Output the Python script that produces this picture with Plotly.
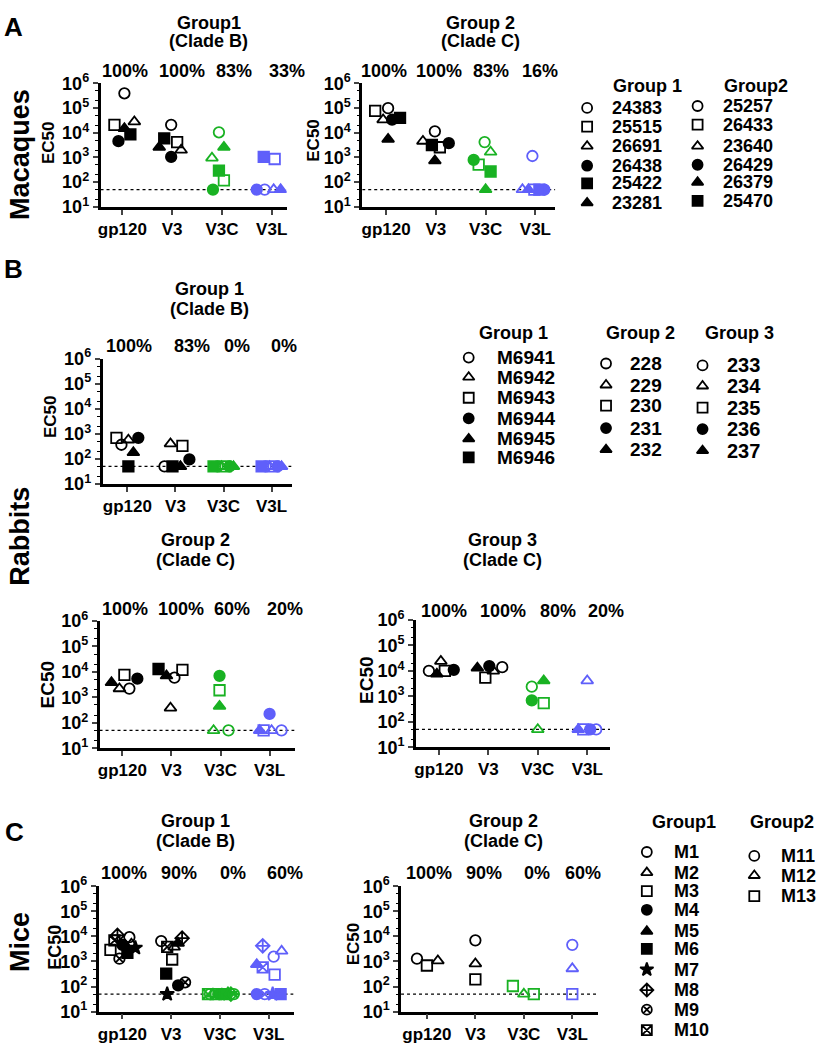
import plotly.graph_objects as go

W, H = 816, 1050
FONT = "Liberation Sans"
BLACK = "black"
GREEN = "rgb(25,178,35)"
BLUE = "rgb(95,95,250)"

categories = ["gp120", "V3", "V3C", "V3L"]
cat_colors = [BLACK, BLACK, GREEN, BLUE]

OC, OS, OT = "circle-open", "square-open", "triangle-up-open"
FC, FS, FT = "circle", "square", "triangle-up"

# ---------------- data (EC50 per animal: gp120, V3, V3C, V3L) ----------------
mac_g1_ids = ["24383", "25515", "26691", "26438", "25422", "23281"]
mac_g1_sym = [OC, OS, OT, FC, FS, FT]
mac_g1_ec50 = [[4.0e5, 2.1e4, 1.05e4, 50], [2.1e4, 4.2e3, 118, 870], [2.8e4, 2.0e3, 950, 50],
               [4.6e3, 1.05e3, 50, 50], [8.7e3, 6.0e3, 295, 1050], [1.5e4, 2.6e3, 2.6e3, 50]]
mac_g1_jit = [[2, -1, -3, -7], [-8, 5, 2, 3], [12, 9, -10, 2], [-4, -1, -9, -15], [8, -8, -3, -8], [2, -13, 2, 9]]
mac_g1_pct = ["100%", "100%", "83%", "33%"]

mac_g2_ids = ["25257", "26433", "23640", "26429", "26379", "25470"]
mac_g2_sym = [OC, OS, OT, FC, FT, FS]
mac_g2_ec50 = [[1.0e5, 1.15e4, 4.2e3, 1150], [7.8e4, 2.6e3, 510, 50], [3.4e4, 4.6e3, 1.66e3, 50],
               [3.4e4, 3.8e3, 800, 50], [5.5e3, 740, 50, 50], [4.0e4, 3.2e3, 270, 50]]
mac_g2_jit = [[2, -1, -1, -3], [-11, 4, -7, -1], [-3, -13, 5, -13], [6, 13, -12, 9], [2, -1, 0, -7], [14, -4, 5, 4]]
mac_g2_pct = ["100%", "100%", "83%", "16%"]

rab_g1_ids = ["M6941", "M6942", "M6943", "M6944", "M6945", "M6946"]
rab_g1_sym = [OC, OT, OS, FC, FT, FS]
rab_g1_ec50 = [[365, 50, 50, 50], [570, 400, 50, 50], [690, 330, 50, 50],
               [690, 95, 50, 50], [178, 50, 50, 50], [50, 50, 50, 50]]
rab_g1_jit = [[-6, -11, -6, -6], [1, -5, -2, -2], [-11, 7, 2, 2], [11, 14, 6, 6], [6, 5, 10, 10], [1, -3, -10, -10]]
rab_g1_pct = ["100%", "83%", "0%", "0%"]

rab_g2_ids = ["228", "229", "230", "231", "232"]
rab_g2_sym = [OC, OT, OS, FC, FT]
rab_g2_ec50 = [[2.2e3, 5.9e3, 50, 50], [2.2e3, 380, 50, 50], [7.6e3, 1.2e4, 1.9e3, 50],
               [5.4e3, 1.3e4, 7.0e3, 222], [3.8e3, 7.0e3, 450, 50]]
rab_g2_jit = [[7, 3, 8, 12], [-3, -1, -7, 2], [2, 11, -1, -6], [15, -13, -1, 0], [-11, -5, -1, -10]]
rab_g2_pct = ["100%", "100%", "60%", "20%"]
rab_g2_sym_override = {(3, 1): FS}

rab_g3_ids = ["233", "234", "235", "236", "237"]
rab_g3_sym = [OC, OT, OS, FC, FT]
rab_g3_ec50 = [[1.0e4, 1.4e4, 2.4e3, 50], [2.4e4, 1.0e4, 50, 4.1e3], [1.0e4, 5.4e3, 540, 50],
               [1.1e4, 1.55e4, 700, 50], [7.6e3, 1.3e4, 4.1e3, 50]]
rab_g3_jit = [[-10, 14, -6, 9], [2, 5, 0, 0], [6, -3, 6, -4], [15, 1, -6, 3], [-2, -11, 6, -9]]
rab_g3_pct = ["100%", "100%", "80%", "20%"]

M8, M9, M10 = "diamond-cross-open", "circle-x-open", "square-x-open"
mice_g1_ids = ["M1", "M2", "M3", "M4", "M5", "M6", "M7", "M8", "M9", "M10"]
mice_g1_sym = [OC, OT, OS, FC, FT, FS, "star", M8, M9, M10]
mice_g1_ec50 = [[9.3e3, 6.5e3, 50, 1.55e3], [5.0e3, 3.8e3, 50, 2.6e3], [2.9e3, 1.2e3, 50, 300],
                [4.6e3, 112, 50, 50], [4.5e3, 5.4e3, 50, 760], [2.2e3, 330, 50, 50],
                [3.5e3, 50, 50, 50], [1.1e4, 8.5e3, 50, 4.2e3], [1.3e3, 148, 50, 50],
                [7.0e3, 3.8e3, 50, 580]]
mice_g1_jit = [[7, -10, -10, 5], [9, 3, -7, 13], [-12, 1, -4, 6], [0, 7, -1, -12], [3, 7, 2, -12],
               [5, -5, 5, 12], [13, -4, 8, 4], [-5, 11, 11, -6], [-3, 14, 14, -4], [-8, -4, -12, -6]]
mice_g1_pct = ["100%", "90%", "0%", "60%"]

mice_g2_ids = ["M11", "M12", "M13"]
mice_g2_sym = [OC, OT, OS]
mice_g2_ec50 = [[1.3e3, 7.0e3, 50, 4.6e3], [1.07e3, 810, 50, 520], [690, 195, 105, 50]]
mice_g2_jit = [[-10, 0, 10, 0], [11, 0, 0, 0], [0, 0, -11, 0]]
mice_g2_pct = ["100%", "90%", "0%", "60%"]
mice_g2_sym_override = {(0, 2): OS}

cutoff = 50

# ---------------- layout geometry (pixels) ----------------
panels = [
    dict(ec50=mac_g1_ec50, jit=mac_g1_jit, sym=mac_g1_sym, pct=mac_g1_pct, ov={},
         geo=(98, 285, 120, 50, 73, 199), t1="Group1", t2="(Clade B)", tx=207, ty=(11, 30),
         pctx=[123, 180, 232, 285], pcty=60, ecx=45, ecy=133, ecs=17),
    dict(ec50=mac_g2_ec50, jit=mac_g2_jit, sym=mac_g2_sym, pct=mac_g2_pct, ov={},
         geo=(361, 555, 385, 50, 73, 199), t1="Group 2", t2="(Clade C)", tx=480, ty=(11, 30),
         pctx=[383, 438, 490, 540], pcty=60, ecx=312, ecy=131, ecs=17),
    dict(ec50=rab_g1_ec50, jit=rab_g1_jit, sym=rab_g1_sym, pct=rab_g1_pct, ov={},
         geo=(100, 290, 125, 48.3, 354, 482), t1="Group 1", t2="(Clade B)", tx=208, ty=(283, 303),
         pctx=[127, 190, 235, 282], pcty=341, ecx=48, ecy=413, ecs=17),
    dict(ec50=rab_g2_ec50, jit=rab_g2_jit, sym=rab_g2_sym, pct=rab_g2_pct, ov=rab_g2_sym_override,
         geo=(97, 293, 120, 49.3, 622, 752), t1="Group 2", t2="(Clade C)", tx=193, ty=(539, 560),
         pctx=[123, 179, 230, 283], pcty=610, ecx=45, ecy=687, ecs=19),
    dict(ec50=rab_g3_ec50, jit=rab_g3_jit, sym=rab_g3_sym, pct=rab_g3_pct, ov={},
         geo=(415, 610, 438, 49.7, 621, 751), t1="Group 3", t2="(Clade C)", tx=502, ty=(539, 560),
         pctx=[443, 502, 558, 606], pcty=612, ecx=365, ecy=682, ecs=19),
    dict(ec50=mice_g1_ec50, jit=mice_g1_jit, sym=mice_g1_sym, pct=mice_g1_pct, ov={},
         geo=(96, 292, 120, 49, 893, 1021), t1="Group 1", t2="(Clade B)", tx=193, ty=(826, 847),
         pctx=[122, 177, 231, 283], pcty=879, ecx=52, ecy=955, ecs=18),
    dict(ec50=mice_g2_ec50, jit=mice_g2_jit, sym=mice_g2_sym, pct=mice_g2_pct, ov=mice_g2_sym_override,
         geo=(400, 598, 426, 48.7, 893, 1021), t1="Group 2", t2="(Clade C)", tx=503, ty=(826, 847),
         pctx=[428, 483, 537, 583], pcty=879, ecx=352, ecy=952, ecs=17),
]

fig = go.Figure()
annotations = []


def ann(x, y, text, size, xanchor="center", angle=0):
    annotations.append(dict(x=x / W, y=1 - y / H, xref="paper", yref="paper", text="<b>%s</b>" % text,
                            showarrow=False, xanchor=xanchor, yanchor="middle", textangle=angle,
                            font=dict(family=FONT, size=size, color="black")))


layout_axes = {}
for k, p in enumerate(panels):
    n = k + 1
    sfx = str(n) if n > 1 else ""
    xa, ya = "x" + sfx, "y" + sfx
    left, right, c0, step, ytop, ybot = p["geo"]
    xr = [(left - c0) / step, (right - c0) / step]
    fig.add_trace(go.Scatter(x=xr, y=[cutoff, cutoff], mode="lines", xaxis=xa, yaxis=ya,
                             line=dict(color="black", width=1.2, dash="dot"), hoverinfo="skip",
                             showlegend=False))
    for a, vals in enumerate(p["ec50"]):
        xs = [i + p["jit"][a][i] / step for i in range(len(categories))]
        syms = [p["ov"].get((a, i), p["sym"][a]) for i in range(len(categories))]
        fig.add_trace(go.Scatter(
            x=xs, y=vals, mode="markers", xaxis=xa, yaxis=ya, showlegend=False,
            marker=dict(symbol=syms, size=10.5, color=cat_colors,
                        line=dict(width=1.8, color=cat_colors))))
    layout_axes["xaxis" + sfx] = dict(
        domain=[left / W, right / W], range=xr, anchor=ya, showgrid=False, zeroline=False,
        showline=True, linecolor="black", linewidth=2.5, ticks="outside", ticklen=5, tickwidth=2,
        tickmode="array", tickvals=list(range(len(categories))),
        ticktext=["<b>%s</b>" % c for c in categories],
        tickfont=dict(family=FONT, size=17, color="black"))
    layout_axes["yaxis" + sfx] = dict(
        domain=[1 - ybot / H, 1 - ytop / H], type="log", range=[1, 6], anchor=xa, showgrid=False,
        zeroline=False, showline=True, linecolor="black", linewidth=2.5, ticks="outside",
        ticklen=5, tickwidth=2, tickmode="array", tickvals=[10 ** e for e in range(1, 7)],
        ticktext=["<b>10<sup>%d</sup></b>" % e for e in range(1, 7)],
        tickfont=dict(family=FONT, size=18, color="black"),
        minor=dict(ticks="outside", ticklen=2.5, tickwidth=1, tickcolor="black", showgrid=False))
    ann(p["tx"], p["ty"][0], p["t1"], 18)
    ann(p["tx"], p["ty"][1], p["t2"], 18)
    for i, t in enumerate(p["pct"]):
        ann(p["pctx"][i], p["pcty"], t, 18)
    ann(p["ecx"], p["ecy"], "EC50", p["ecs"], angle=-90)

# ---------------- legends (overlay pixel axis) ----------------
legends = [
    dict(head="Group 1", hx=648, hy=76, sx=587, tx=610, rows=[98, 117, 137, 157, 175, 195],
         ids=mac_g1_ids, sym=mac_g1_sym, fs=18),
    dict(head="Group2", hx=757, hy=76, sx=698, tx=722, rows=[96, 115, 137, 156, 174, 193],
         ids=mac_g2_ids, sym=mac_g2_sym, fs=18),
    dict(head="Group 1", hx=513, hy=328, sx=468, tx=494, rows=[353, 373, 394, 415, 436, 455],
         ids=rab_g1_ids, sym=rab_g1_sym, fs=19),
    dict(head="Group 2", hx=641, hy=328, sx=606, tx=628, rows=[359, 381, 402, 425, 447],
         ids=rab_g2_ids, sym=rab_g2_sym, fs=19),
    dict(head="Group 3", hx=740, hy=328, sx=703, tx=726, rows=[361, 382, 404, 426, 448],
         ids=rab_g3_ids, sym=rab_g3_sym, fs=20),
    dict(head="Group1", hx=684, hy=827, sx=647, tx=672,
         rows=[858, 879, 898, 917, 939, 957, 978, 999, 1019, 1040],
         ids=mice_g1_ids, sym=mice_g1_sym, fs=18),
    dict(head="Group2", hx=783, hy=827, sx=755, tx=780, rows=[862, 882, 903],
         ids=mice_g2_ids, sym=mice_g2_sym, fs=18),
]
for lg in legends:
    ann(lg["hx"], lg["hy"], lg["head"], 18)
    fig.add_trace(go.Scatter(x=[lg["sx"]] * len(lg["rows"]), y=lg["rows"], mode="markers",
                             xaxis="x8", yaxis="y8", showlegend=False, hoverinfo="skip",
                             marker=dict(symbol=lg["sym"], size=10, color="black",
                                         line=dict(width=1.8, color="black"))))
    for r, label in zip(lg["rows"], lg["ids"]):
        ann(lg["tx"], r, label, lg["fs"], xanchor="left")

layout_axes["xaxis8"] = dict(domain=[0, 1], range=[0, W], visible=False, anchor="y8")
layout_axes["yaxis8"] = dict(domain=[0, 1], range=[H, 0], visible=False, anchor="x8")

ann(11, 15, "A", 26)
ann(11, 262, "B", 26)
ann(12, 838, "C", 26)
ann(17, 145, "Macaques", 27, angle=-90)
ann(17, 535, "Rabbits", 27, angle=-90)
ann(17, 950, "Mice", 27, angle=-90)

fig.update_layout(width=W, height=H, margin=dict(l=0, r=0, t=0, b=0),
                  plot_bgcolor="rgba(0,0,0,0)", paper_bgcolor="white", showlegend=False,
                  annotations=annotations, font=dict(family=FONT, color="black"), **layout_axes)

fig.write_html("out.html", config={"displayModeBar": False},
               post_script="document.body.style.margin='0';document.body.style.overflow='hidden';")
